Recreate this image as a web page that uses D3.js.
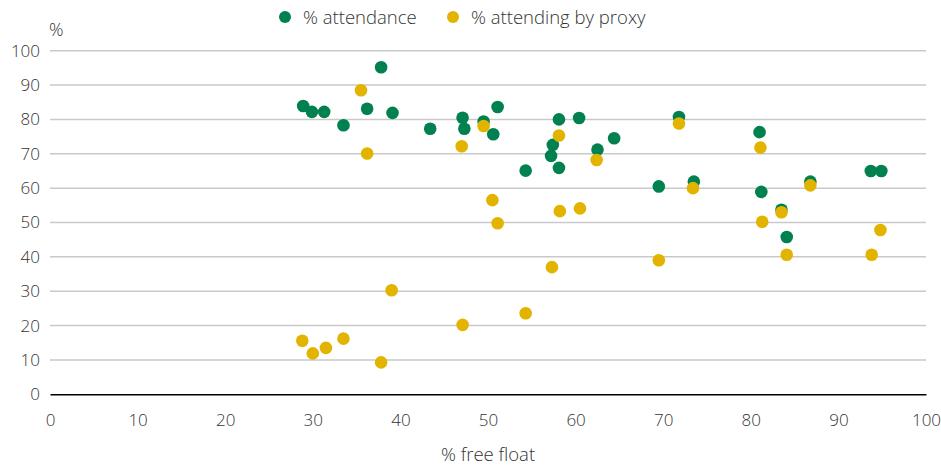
<!DOCTYPE html>
<html><head><meta charset="utf-8">
<script src="https://cdn.jsdelivr.net/npm/d3@7"></script>
<style>
body{margin:0;background:#fff;}
text{font-family:"Open Sans","Noto Sans",sans-serif;fill:#333;}
</style></head><body>
<svg id="c" width="941" height="466"></svg>
<script>
const attendanceX = [28.9,29.9,31.3,33.5,36.2,37.8,39.1,43.4,47.1,47.3,49.5,50.6,51.1,54.3,57.2,57.4,58.1,58.1,60.4,62.5,64.4,69.5,71.8,73.5,81.0,81.2,83.5,84.1,86.8,93.7,94.9];
const attendanceY = [83.9,82.2,82.2,78.3,83.1,95.2,81.9,77.3,80.5,77.3,79.4,75.7,83.6,65.1,69.4,72.6,80.0,65.9,80.4,71.2,74.5,60.5,80.7,61.9,76.3,58.9,53.7,45.8,61.9,65.0,65.0];
const proxyX = [28.8,30.0,31.5,33.5,35.5,36.2,37.8,39.0,47.0,47.1,49.5,50.5,51.1,54.3,57.3,58.1,58.2,60.5,62.4,69.5,71.8,73.4,81.1,81.3,83.5,84.1,86.8,93.8,94.8];
const proxyY = [15.6,11.9,13.5,16.2,88.5,70.1,9.3,30.3,72.2,20.2,78.1,56.5,49.8,23.6,37.0,75.3,53.3,54.1,68.2,39.0,78.8,60.0,71.8,50.2,53.0,40.6,60.8,40.6,47.8];
const xTicks = [0,10,20,30,40,50,60,70,80,90,100];
const yTicks = [0,10,20,30,40,50,60,70,80,90,100];
const seriesNames = ["% attendance","% attending by proxy"];
const colors = ["#00814f","#e2b400"];

const svg = d3.select("#c");
const x = d3.scaleLinear().domain([0,100]).range([50,926]);
const y = d3.scaleLinear().domain([0,100]).range([394.3,50.7]);
const FF = "'Open Sans','Noto Sans',sans-serif";

// gridlines
svg.append("g").selectAll("line").data(yTicks.filter(d=>d>0)).join("line")
  .attr("x1",x(0)).attr("x2",x(100)).attr("y1",d=>y(d)).attr("y2",d=>y(d))
  .attr("stroke","#c9c9c9").attr("stroke-width",1.5);

// y axis labels
const yAxis = svg.append("g").attr("transform","translate(40,0)")
  .call(d3.axisLeft(y).tickValues(yTicks).tickSize(0).tickPadding(0));
yAxis.select(".domain").remove();
yAxis.selectAll("text").attr("font-size",17).attr("fill","#333").attr("font-family",FF).attr("font-weight",300);

// x axis
const xAxis = svg.append("g").attr("transform",`translate(0,${y(0)})`)
  .call(d3.axisBottom(x).tickValues(xTicks).tickSize(0).tickPadding(20));
xAxis.select(".domain").attr("stroke","#000").attr("stroke-width",1.5);
xAxis.selectAll("text").attr("font-size",17).attr("fill","#333").attr("font-family",FF).attr("font-weight",300);

// axis titles
svg.append("text").attr("x",49).attr("y",36).attr("font-size",18).attr("font-weight",300).text("%");
svg.append("text").attr("x",488).attr("y",461).attr("text-anchor","middle").attr("font-size",18.5).attr("font-weight",300).text("% free float");

// points
const att = attendanceX.map((v,i)=>({x:v,y:attendanceY[i]}));
const prx = proxyX.map((v,i)=>({x:v,y:proxyY[i]}));
svg.append("g").selectAll("circle").data(att).join("circle")
  .attr("cx",d=>x(d.x)).attr("cy",d=>y(d.y)).attr("r",6.3).attr("fill",colors[0]);
svg.append("g").selectAll("circle").data(prx).join("circle")
  .attr("cx",d=>x(d.x)).attr("cy",d=>y(d.y)).attr("r",6.3).attr("fill",colors[1]);

// legend
const legX = [285,453];
seriesNames.forEach((n,i)=>{
  svg.append("circle").attr("cx",legX[i]).attr("cy",17).attr("r",6).attr("fill",colors[i]);
  svg.append("text").attr("x",legX[i]+18).attr("y",23.5).attr("font-size",18.5).attr("font-weight",300).text(n);
});
</script>
</body></html>
